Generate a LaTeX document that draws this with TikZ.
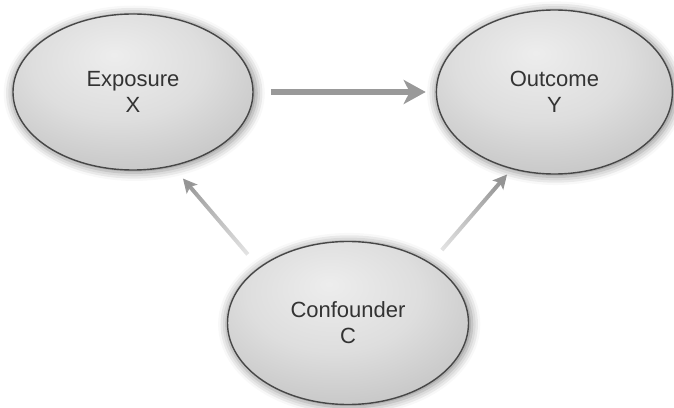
\documentclass[tikz,border=0pt]{standalone}
\usepackage{fontspec}
\setmainfont{Liberation Sans}
\usetikzlibrary{arrows.meta,positioning,shapes.geometric,shadows.blur,fadings}

\pgfdeclareradialshading{factorshade}{\pgfpoint{-4bp}{12bp}}{%
	color(0bp)=(black!7); color(18bp)=(black!13); color(38bp)=(black!25);
	color(52bp)=(black!34); color(75bp)=(black!42)}
\tikzfading[name=tailfade, left color=transparent!75, right color=transparent!0]

\tikzset{
	factor/.style={ellipse, draw=black!72, line width=0.7pt, shading=factorshade,
		minimum width=120pt, minimum height=80pt, inner sep=0pt, align=center,
		font=\fontsize{11pt}{13pt}\selectfont, text=black!80,
		blur shadow={shadow xshift=0.6pt, shadow yshift=-0.6pt, shadow scale=1.02,
			shadow blur radius=4pt, shadow opacity=45}},
	link/.style={draw=black!40, line width=3pt,
		-{Stealth[length=11pt,width=12pt,inset=3pt]}},
	thinlink/.style={draw=black!42, line width=2pt, path fading=tailfade,
		-{Stealth[length=7pt,width=7pt,inset=1.5pt]}}
}

\begin{document}
\begin{tikzpicture}[x=0.5pt,y=0.5pt]
					\useasboundingbox (0,0) rectangle (674,407);
					\node[factor, minimum height=78pt] (ex)   at (133,315)            {Exposure\\X};
					\node[factor, minimum width=118pt, minimum height=82pt]
						(out)  [right=91pt of ex]  {Outcome\\Y};
					\node[factor, minimum width=120.5pt, minimum height=81.5pt]
						(conf) at (348,84)         {Confounder\\C};

					\draw (ex.east) edge[link, shorten <=8.5pt, shorten >=5pt] (out.west)
						(conf.148) edge[thinlink, fading angle=128, shorten <=8.5pt, shorten >=8pt] (ex.-62)
						(conf.36)  edge[thinlink, fading angle=51, shorten <=8.5pt, shorten >=3.5pt] (out.241);
				\end{tikzpicture}
\end{document}
